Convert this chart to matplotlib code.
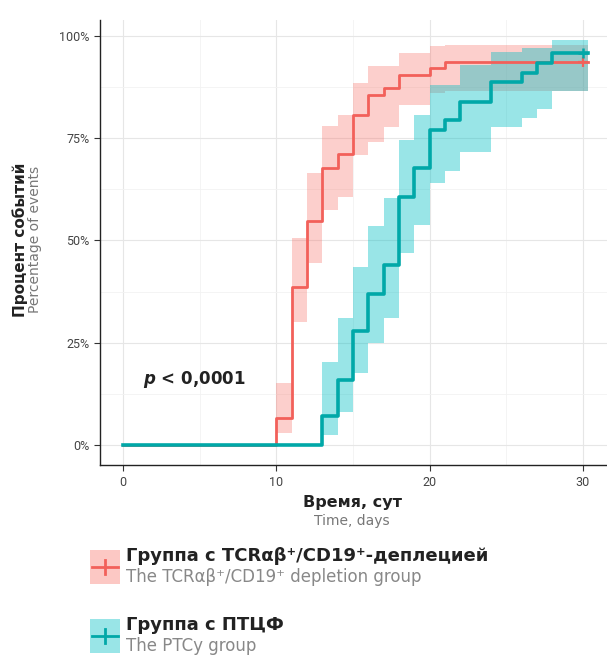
import matplotlib
matplotlib.use('Agg')
from matplotlib import pyplot as plt
from matplotlib.patches import Rectangle
from matplotlib.lines import Line2D
from matplotlib.ticker import FuncFormatter, MultipleLocator

# Кривые кумулятивной частоты событий (ступенчатые), %
red_t = [0, 10, 11, 12, 13, 14, 15, 16, 17, 18, 20, 21, 30.3]
red_y = [0, 6.5, 38.7, 54.8, 67.7, 71.0, 80.6, 85.5, 87.1, 90.5, 92.0, 93.5, 93.5]
red_lo = [0, 2.9, 30.0, 44.5, 57.5, 60.7, 70.9, 74.0, 77.8, 83.0, 86.0, 86.4, 86.4]
red_hi = [0, 15.2, 50.7, 66.5, 78.0, 80.7, 88.4, 92.5, 92.7, 95.8, 97.4, 97.8, 97.8]

teal_t = [0, 13, 14, 15, 16, 17, 18, 19, 20, 21, 22, 24, 26, 27, 28, 30.3]
teal_y = [0, 7.1, 15.9, 27.9, 36.9, 44.0, 60.7, 67.6, 77.0, 79.4, 83.9, 88.6, 90.9, 93.3, 95.7, 95.7]
teal_lo = [0, 2.4, 8.1, 17.6, 25.0, 31.0, 47.0, 53.8, 64.0, 67.0, 71.7, 77.8, 80.0, 82.0, 86.4, 86.4]
teal_hi = [0, 20.4, 31.0, 43.6, 53.4, 60.3, 74.6, 80.7, 88.0, 88.0, 92.9, 96.0, 97.0, 97.0, 99.0, 99.0]

censor_t = 30.0
x_ticks = [0, 10, 20, 30]
y_ticks = [0, 25, 50, 75, 100]

RED = '#F8766D'
TEAL = '#00BFC4'
RED_LINE = '#F2605A'
TEAL_LINE = '#00A8A8'

fig = plt.figure(figsize=(6.07, 6.57), dpi=100)
ax = fig.add_axes([0.165, 0.292, 0.835, 0.678])

ax.fill_between(red_t, red_lo, red_hi, step='post', color=RED, alpha=0.35, lw=0)
ax.fill_between(teal_t, teal_lo, teal_hi, step='post', color=TEAL, alpha=0.4, lw=0)
ax.step(red_t, red_y, where='post', color=RED_LINE, lw=2.0)
ax.step(teal_t, teal_y, where='post', color=TEAL_LINE, lw=2.6)
ax.plot([censor_t], [red_y[-1]], marker='+', ms=7, mew=1.6, color=RED_LINE)
ax.plot([censor_t], [teal_y[-1]], marker='+', ms=7, mew=1.8, color=TEAL_LINE)

ax.set_xlim(-1.5, 31.57)
ax.set_ylim(-4.9, 103.9)
ax.set_xticks(x_ticks)
ax.set_yticks(y_ticks)
ax.xaxis.set_minor_locator(MultipleLocator(5))
ax.yaxis.set_minor_locator(MultipleLocator(12.5))
ax.yaxis.set_major_formatter(FuncFormatter(lambda v, p: '{:.0f}%'.format(v)))
ax.grid(True, which='major', color='#e6e6e6', lw=0.8)
ax.grid(True, which='minor', color='#f2f2f2', lw=0.6)
ax.set_axisbelow(True)
for side in ['top', 'right']:
    ax.spines[side].set_visible(False)
for side in ['left', 'bottom']:
    ax.spines[side].set_color('#222222')
    ax.spines[side].set_linewidth(1.0)
ax.tick_params(which='minor', length=0)
ax.tick_params(which='major', length=4, color='#333333', labelsize=9, labelcolor='#444444')
for lbl in ax.get_xticklabels() + ax.get_yticklabels():
    lbl.set_family(['Roboto', 'DejaVu Sans'])

ax.text(1.3, 15.9, r'$\boldsymbol{p}$ < 0,0001', fontsize=12, fontweight='bold',
        color='#222222', va='center', ha='left')

# Подписи осей
fig.text(0.033, 0.635, 'Процент событий', rotation=90, ha='center', va='center',
         fontsize=11, fontweight='bold', color='#222222')
fig.text(0.058, 0.635, 'Percentage of events', rotation=90, ha='center', va='center',
         fontsize=10, color='#777777')
fig.text(0.58, 1 - 502 / 657, 'Время, сут', ha='center', va='center',
         fontsize=11.5, fontweight='bold', color='#222222')
fig.text(0.58, 1 - 521 / 657, 'Time, days', ha='center', va='center',
         fontsize=10, color='#777777')

# Легенда
leg = fig.add_axes([0, 0, 1, 1], zorder=-1)
leg.set_xlim(0, 607)
leg.set_ylim(657, 0)
leg.axis('off')
entries = [
    (RED, RED_LINE, 'Группа с TCRαβ⁺/CD19⁺-деплецией', 'The TCRαβ⁺/CD19⁺ depletion group', 550),
    (TEAL, TEAL_LINE, 'Группа с ПТЦФ', 'The PTCy group', 619),
]
for fill, line, title, sub, top in entries:
    leg.add_patch(Rectangle((90, top), 30, 34, color=fill, alpha=0.4, lw=0))
    leg.add_line(Line2D([92, 118], [top + 17, top + 17], color=line, lw=2))
    leg.add_line(Line2D([105, 105], [top + 10, top + 24], color=line, lw=2))
    leg.text(126, top + 6, title, fontsize=13, fontweight='bold', color='#222222', va='center')
    leg.text(126, top + 27, sub, fontsize=12, color='#888888', va='center')

fig.savefig('out.png', dpi=100)
